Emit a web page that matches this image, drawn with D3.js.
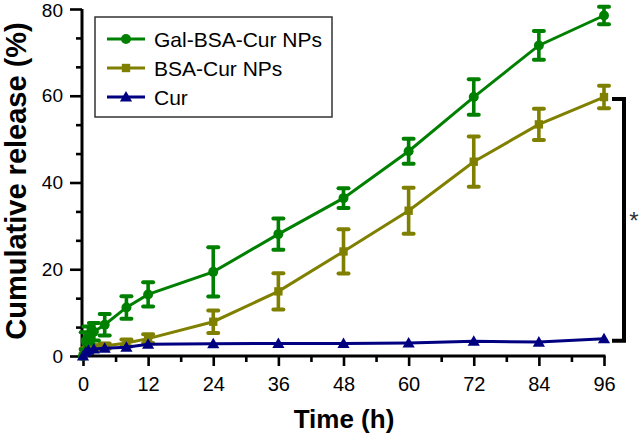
<!DOCTYPE html>
<html><head><meta charset="utf-8">
<script src="https://cdnjs.cloudflare.com/ajax/libs/d3/7.8.5/d3.min.js"></script>
<style>body{margin:0;background:#fff;}svg{display:block;font-family:"Liberation Sans",Arial,sans-serif;}</style>
</head><body>
<svg id="c" width="642" height="435"></svg>
<script>
const times = [0, 0.5, 1, 2, 4, 8, 12, 24, 36, 48, 60, 72, 84, 96];
const galValues = [0, 3.5, 4.8, 5.6, 7.2, 11.2, 14.2, 19.4, 28.1, 36.4, 47.2, 59.7, 71.6, 78.5];
const galErrors = [0, 2, 2, 2, 2.5, 2.6, 2.8, 5.7, 3.6, 2.3, 2.9, 4.1, 3.3, 2.0];
const bsaValues = [0, 1.2, 1.5, 1.9, 2.3, 3.0, 4.0, 7.9, 14.9, 24.1, 33.5, 44.8, 53.4, 59.7];
const bsaErrors = [0, 0.5, 0.5, 0.6, 0.6, 0.8, 1.0, 2.6, 4.2, 5.1, 5.3, 5.8, 3.6, 2.6];
const curValues = [0, 0.9, 1.3, 1.6, 1.8, 2.0, 2.7, 2.8, 2.9, 2.9, 3.0, 3.4, 3.2, 4.0];
const curErrors = [0, 0.2, 0.2, 0.2, 0.2, 0.2, 0.2, 0.2, 0.2, 0.2, 0.2, 0.2, 0.2, 0.2];
const seriesNames = ["Gal-BSA-Cur NPs", "BSA-Cur NPs", "Cur"];
const seriesColors = ["#008000", "#808000", "#000080"];
const xTicks = [0, 12, 24, 36, 48, 60, 72, 84, 96];
const yTicks = [0, 20, 40, 60, 80];

const svg = d3.select("#c");
const x = d3.scaleLinear().domain([0, 96]).range([83, 604]);
const y = d3.scaleLinear().domain([0, 80]).range([356, 9]);

// axes
const xMinor = d3.range(0, 97, 6).filter(v => v % 12 !== 0);
const yMinor = d3.range(0, 80.01, 20 / 3).filter(v => Math.abs(v / 20 - Math.round(v / 20)) > 0.01);

const gx = svg.append("g").attr("transform", `translate(0,${y(0)})`);
gx.append("g").call(d3.axisBottom(x).tickValues(xMinor).tickSize(6).tickFormat(""))
  .call(g => g.select(".domain").remove());
gx.append("g").call(d3.axisBottom(x).tickValues(xTicks).tickSize(10).tickPadding(11).tickFormat(d3.format("d")))
  .call(g => g.select(".domain").attr("d", `M${x(0) - 1.5},0H${x(96) + 1.5}`));
gx.selectAll("line").attr("stroke", "#000").attr("stroke-width", 2.6);
gx.selectAll(".domain").attr("stroke", "#000").attr("stroke-width", 3);
gx.selectAll("text").attr("font-size", 20).attr("fill", "#000").attr("font-family", "Liberation Sans, Arial, sans-serif");

const gy = svg.append("g").attr("transform", `translate(${x(0) - 1},0)`);
gy.append("g").call(d3.axisLeft(y).tickValues(yMinor).tickSize(6).tickFormat(""))
  .call(g => g.select(".domain").remove());
gy.append("g").call(d3.axisLeft(y).tickValues(yTicks).tickSize(12).tickPadding(7).tickFormat(d3.format("d")))
  .call(g => g.select(".domain").attr("d", `M0,${y(80)}V${y(0) + 1.5}`));
gy.selectAll("line").attr("stroke", "#000").attr("stroke-width", 2.6);
gy.selectAll(".domain").attr("stroke", "#000").attr("stroke-width", 3);
gy.selectAll("text").attr("font-size", 19).attr("fill", "#000").attr("font-family", "Liberation Sans, Arial, sans-serif");
gy.selectAll(".tick text").filter(d => d === 80).attr("dy", "0.42em");

// titles
svg.append("text").attr("x", 344).attr("y", 428).attr("text-anchor", "middle")
  .attr("font-size", 26).attr("font-weight", "bold").text("Time (h)");
svg.append("text").attr("transform", "translate(26,181) rotate(-90)").attr("text-anchor", "middle")
  .attr("font-size", 29).attr("font-weight", "bold").text("Cumulative release (%)");

// series
const series = [
  {vals: galValues, errs: galErrors, color: seriesColors[0], shape: "circle"},
  {vals: bsaValues, errs: bsaErrors, color: seriesColors[1], shape: "square"},
  {vals: curValues, errs: curErrors, color: seriesColors[2], shape: "triangle"}
];
const symFor = s => s === "circle" ? d3.symbol(d3.symbolCircle, 78)
  : s === "square" ? d3.symbol(d3.symbolSquare, 70) : d3.symbol(d3.symbolTriangle, 64);

const drawOrder = [1, 0, 2];
drawOrder.forEach(i => {
  const s = series[i];
  const pts = times.map((t, k) => ({t, v: s.vals[k], e: s.errs[k]}));
  const g = svg.append("g");
  g.append("path").datum(pts).attr("fill", "none").attr("stroke", s.color).attr("stroke-width", 3)
    .attr("d", d3.line().x(d => x(d.t)).y(d => y(d.v)));
  const eb = g.selectAll(".eb").data(pts.filter(d => d.e > 0.4)).join("g");
  eb.append("line").attr("x1", d => x(d.t)).attr("x2", d => x(d.t))
    .attr("y1", d => y(d.v + d.e)).attr("y2", d => y(d.v - d.e))
    .attr("stroke", s.color).attr("stroke-width", 3.6);
  [1, -1].forEach(sg => {
    eb.append("line").attr("x1", d => x(d.t) - 5).attr("x2", d => x(d.t) + 5)
      .attr("y1", d => y(d.v + sg * d.e)).attr("y2", d => y(d.v + sg * d.e))
      .attr("stroke", s.color).attr("stroke-width", 4).attr("stroke-linecap", "round");
  });
  g.selectAll(".m").data(pts).join("path")
    .attr("transform", d => `translate(${x(d.t)},${y(d.v) + (s.shape === "triangle" ? 1 : 0)})`)
    .attr("d", symFor(s.shape)()).attr("fill", s.color);
});

// significance bracket
const bx = x(96) + 20;
svg.append("path").attr("fill", "none").attr("stroke", "#000").attr("stroke-width", 4)
  .attr("d", `M${x(96) + 8},${y(bsaValues[13]) + 2}H${bx}V${y(curValues[13]) + 2}H${x(96) + 8}`);
svg.append("text").attr("x", bx + 10).attr("y", 229).attr("text-anchor", "middle")
  .attr("font-size", 24).attr("fill", "#333").text("*");

// legend
const lg = svg.append("g");
lg.append("rect").attr("x", 95).attr("y", 17).attr("width", 237).attr("height", 100)
  .attr("fill", "#fff").attr("stroke", "#333").attr("stroke-width", 1.5);
series.forEach((s, i) => {
  const yy = 39 + i * 29;
  lg.append("line").attr("x1", 107).attr("x2", 145).attr("y1", yy).attr("y2", yy)
    .attr("stroke", s.color).attr("stroke-width", 3);
  lg.append("path").attr("transform", `translate(126,${yy + (s.shape === "triangle" ? 1 : 0)})`)
    .attr("d", symFor(s.shape)()).attr("fill", s.color);
  lg.append("text").attr("x", 154).attr("y", yy + 7.5).attr("font-size", 21).attr("fill", "#000")
    .text(seriesNames[i]);
});
</script>
</body></html>
